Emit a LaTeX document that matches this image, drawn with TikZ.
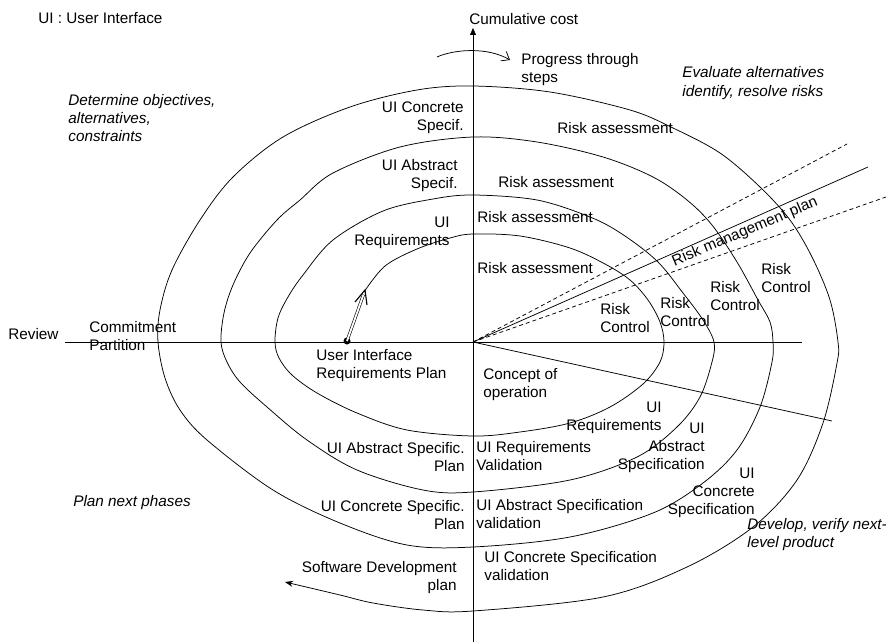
\documentclass[tikz,border=0pt]{standalone}
\usepackage{fontspec}
\setmainfont{Liberation Sans}
\usetikzlibrary{arrows.meta,calc}
\begin{document}
\begin{tikzpicture}[x=1pt,y=-1pt,line width=0.75pt,
  every node/.style={font=\fontsize{15.3}{18.3}\selectfont, inner sep=0pt},
  lab/.style={anchor=base west, align=left},
  labr/.style={anchor=base east, align=right},
  it/.style={font=\fontsize{15.3}{18.3}\selectfont\itshape},
  dashln/.style={dash pattern=on 4pt off 3pt}]
\useasboundingbox (0,0) rectangle (886,642);
\coordinate (O) at (473,342);
% axes
\coordinate (vbot) at (473,642);
\coordinate (vtop) at (473,28);
\coordinate (hl) at (65,342);
\coordinate (hr) at (802,342);
\draw[-{Triangle[length=7pt,width=6pt]}] (vbot) -- (vtop);
\draw (hl) -- (hr);
% radial lines
\coordinate (dr) at (832,421);
\coordinate (rm) at (868,167);
\coordinate (rmu) at (847,144);
\coordinate (rml) at (886,197);
\draw (O) -- (dr);
\draw (O) -- (rm);
\draw[dashln] (O) -- (rmu);
\draw[dashln] (O) -- (rml);
% spiral
\draw[-{Stealth[length=8pt,width=6pt]}] plot[smooth, tension=0.55] coordinates {
(364,292) (385,266) (417,249) (450,238) (473,234)
(520,236) (570,248) (605,264) (630,280) (648,300) (660,322) (664,342)
(660,362) (643,384) (610,407) (570,423) (520,432) (473,436)
(407,430) (357,413) (317,393) (292,375) (279,358) (275,342)
(278,318) (288,297) (303,275) (333,240) (383,211) (433,199) (473,195)
(537,200) (590,217) (622,234) (657,261) (683,293) (703,320) (714,342)
(712,362) (700,397) (677,427) (637,457) (570,480) (473,492)
(423,490) (357,470) (307,440) (267,407) (240,382) (227,362) (221,342)
(224,313) (233,285) (250,253) (277,220) (300,200) (333,173) (400,147) (473,137)
(537,142) (603,157) (653,177) (687,200) (712,225) (737,262) (758,300) (770,322) (773,342)
(772,362) (760,407) (737,450) (703,483) (653,513) (570,537) (473,547)
(407,545) (340,523) (273,490) (207,440) (180,410) (165,378) (158,342)
(160,310) (172,270) (200,220) (233,177) (283,137) (350,107) (417,90) (473,86)
(550,92) (630,110) (673,128) (720,153) (760,187) (790,220) (812,257) (830,300) (838,342)
(837,363) (823,423) (797,480) (753,527) (687,567) (603,597) (473,611)
(423,610) (373,603) (340,595) (285,582)};
% start marker
\node[circle, fill, minimum size=7pt] (dot) at (347,341) {};
\coordinate (dtip) at (363.5,294.5);
\coordinate (tip) at (365,290);
\draw[double, double distance=1.8pt, line width=0.6pt] (dot.center) -- (dtip);
\draw[line width=1.1pt] (355,302) -- (tip) -- (367,305);
% progress arrow
\coordinate (pa) at (437,57);
\coordinate (pb) at (510,60);
\draw[-{Straight Barb[length=7pt,width=11pt]}] (pa) .. controls (455,49) and (488,47) .. (pb);
% texts (base = baseline of last line)
\node[lab] (ui) at (38,24) {UI : User Interface};
\node[lab] (cc) at (469,25) {Cumulative cost};
\node[lab] (prog) at (521,82.3) {Progress through\\steps};
\node[lab,it] (eval) at (682,96.3) {Evaluate alternatives\\identify, resolve risks};
\node[lab,it] (det) at (68,141.6) {Determine objectives,\\alternatives,\\constraints};
\node[labr] (ucs) at (464,130.3) {UI Concrete\\Specif.};
\node[labr] (uas) at (458,188.3) {UI Abstract\\Specif.};
\node[labr] (ur) at (450,245.3) {UI\\Requirements};
\node[lab] (ra1) at (557,133) {Risk assessment};
\node[lab] (ra2) at (498,187) {Risk assessment};
\node[lab] (ra3) at (477,222) {Risk assessment};
\node[lab] (ra4) at (477,273) {Risk assessment};
\node[lab] (rc1) at (600,332.3) {Risk\\Control};
\node[lab] (rc2) at (660,326.3) {Risk\\Control};
\node[lab] (rc3) at (710,310.3) {Risk\\Control};
\node[lab] (rc4) at (761,292.3) {Risk\\Control};
\node[rotate=23] (rmp) at (745,232) {Risk management plan};
\node[lab] (rev) at (8,339) {Review};
\node[lab] (cp) at (89,350.3) {Commitment\\Partition};
\node[lab] (uirp) at (316,378.3) {User Interface\\Requirements Plan};
\node[lab] (co) at (483,397.3) {Concept of\\operation};
\node[labr] (uirb) at (662,430.3) {UI\\Requirements};
\node[labr] (uiab) at (705,469.6) {UI\\Abstract\\Specification};
\node[labr] (uicb) at (755,514.6) {UI\\Concrete\\Specification};
\node[lab,it] (dev) at (747,547.3) {Develop, verify next-\\level product};
\node[lab] (urv) at (476,470.3) {UI Requirements\\Validation};
\node[lab] (uasv) at (476,528.3) {UI Abstract Specification\\validation};
\node[lab] (ucsv) at (484,580.3) {UI Concrete Specification\\validation};
\node[labr] (uasp) at (465,471.3) {UI Abstract Specific.\\Plan};
\node[labr] (ucsp) at (465,529.3) {UI Concrete Specific.\\Plan};
\node[lab,it] (pnp) at (73,506) {Plan next phases};
\node[labr] (sdp) at (457,590.3) {Software Development\\plan};
\end{tikzpicture}
\end{document}
